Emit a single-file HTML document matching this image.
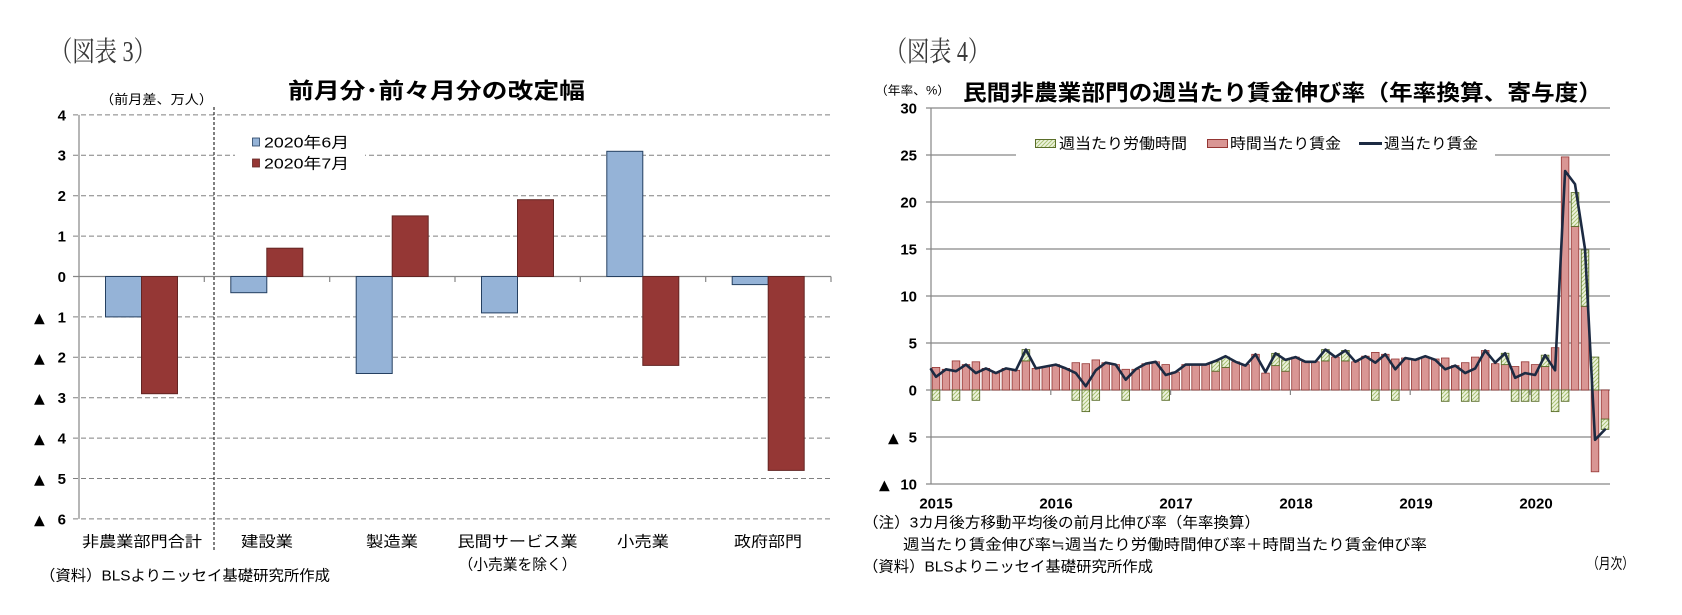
<!DOCTYPE html>
<html lang="ja">
<head>
<meta charset="utf-8">
<style>
  html,body{margin:0;padding:0;background:#fff;}
  svg{display:block;}
  text{font-family:"Liberation Sans","Noto Sans CJK JP",sans-serif;fill:#000;}
  .serif{font-family:"Liberation Serif","Noto Serif CJK JP","Noto Serif CJK SC",serif;fill:#3a3a3a;}
  text.tri{font-family:"DejaVu Sans","Noto Sans CJK JP",sans-serif;}
  .num{font-weight:bold;}
  .ttl{font-weight:bold;}
</style>
</head>
<body>
<svg width="1682" height="615" viewBox="0 0 1682 615" xmlns="http://www.w3.org/2000/svg">
  <defs>
    <pattern id="hatch" patternUnits="userSpaceOnUse" width="4" height="4">
      <rect width="4" height="4" fill="#eef3e0"/>
      <path d="M-1,1 l2,-2 M0,4 l4,-4 M3,5 l2,-2" stroke="#a9c274" stroke-width="1"/>
    </pattern>
  </defs>
  <rect width="1682" height="615" fill="#fff"/>

  <!-- ================= LEFT CHART ================= -->
  <text class="serif" x="50" y="61" font-size="28" textLength="106" lengthAdjust="spacingAndGlyphs">（図表 3）</text>
  <text x="100" y="104" font-size="13" textLength="113" lengthAdjust="spacingAndGlyphs">（前月差、万人）</text>
  <text class="ttl" x="288" y="98.5" font-size="22" textLength="297" lengthAdjust="spacingAndGlyphs">前月分･前々月分の改定幅</text>

  <!-- gridlines -->
  <g stroke="#808080" stroke-width="1" stroke-dasharray="5,3" fill="none">
    <line x1="73" y1="114.9" x2="830" y2="114.9"/>
    <line x1="73" y1="155.3" x2="830" y2="155.3"/>
    <line x1="73" y1="195.7" x2="830" y2="195.7"/>
    <line x1="73" y1="236.1" x2="830" y2="236.1"/>
    <line x1="73" y1="316.9" x2="830" y2="316.9"/>
    <line x1="73" y1="357.3" x2="830" y2="357.3"/>
    <line x1="73" y1="397.7" x2="830" y2="397.7"/>
    <line x1="73" y1="438.1" x2="830" y2="438.1"/>
    <line x1="73" y1="478.5" x2="830" y2="478.5"/>
    <line x1="73" y1="518.9" x2="830" y2="518.9"/>
  </g>
  <!-- axis -->
  <g stroke="#868686" stroke-width="1.2" fill="none">
    <line x1="79" y1="114.9" x2="79" y2="518.9"/>
    <line x1="73" y1="276.5" x2="831" y2="276.5"/>
    <line x1="204.3" y1="276.5" x2="204.3" y2="282"/>
    <line x1="329.7" y1="276.5" x2="329.7" y2="282"/>
    <line x1="455" y1="276.5" x2="455" y2="282"/>
    <line x1="580.3" y1="276.5" x2="580.3" y2="282"/>
    <line x1="705.7" y1="276.5" x2="705.7" y2="282"/>
    <line x1="831" y1="276.5" x2="831" y2="282"/>
  </g>
  <!-- separator -->
  <line x1="214" y1="107" x2="214" y2="552" stroke="#000" stroke-width="1" stroke-dasharray="3,2"/>

  <!-- legend background -->
  <rect x="235" y="128" width="130" height="45" fill="#fff"/>
  <rect x="252.5" y="138" width="7" height="8" fill="#95b3d7" stroke="#254061" stroke-width="0.8"/>
  <text x="264" y="147.5" font-size="15" textLength="85" lengthAdjust="spacingAndGlyphs">2020年6月</text>
  <rect x="252.5" y="159" width="7" height="8" fill="#953735" stroke="#632523" stroke-width="0.8"/>
  <text x="264" y="168.5" font-size="15" textLength="85" lengthAdjust="spacingAndGlyphs">2020年7月</text>

  <!-- bars blue -->
  <g fill="#95b3d7" stroke="#254061" stroke-width="1">
    <rect x="105.5" y="276.5" width="36" height="40.4"/>
    <rect x="230.8" y="276.5" width="36" height="16.2"/>
    <rect x="356.2" y="276.5" width="36" height="97"/>
    <rect x="481.5" y="276.5" width="36" height="36.4"/>
    <rect x="606.8" y="151.3" width="36" height="125.2"/>
    <rect x="732.2" y="276.5" width="36" height="8.1"/>
  </g>
  <!-- bars red -->
  <g fill="#953735" stroke="#632523" stroke-width="1">
    <rect x="141.5" y="276.5" width="36" height="117.2"/>
    <rect x="266.8" y="248.2" width="36" height="28.3"/>
    <rect x="392.2" y="215.9" width="36" height="60.6"/>
    <rect x="517.5" y="199.7" width="36" height="76.8"/>
    <rect x="642.8" y="276.5" width="36" height="88.9"/>
    <rect x="768.2" y="276.5" width="36" height="193.9"/>
  </g>

  <!-- y labels -->
  <g class="num" font-size="15" text-anchor="end">
    <text x="66" y="120.3">4</text>
    <text x="66" y="160.7">3</text>
    <text x="66" y="201.1">2</text>
    <text x="66" y="241.5">1</text>
    <text x="66" y="281.9">0</text>
    <text x="66" y="322.3">1</text>
    <text x="66" y="362.7">2</text>
    <text x="66" y="403.1">3</text>
    <text x="66" y="443.5">4</text>
    <text x="66" y="483.9">5</text>
    <text x="66" y="524.3">6</text>
  </g>
  <g font-size="14">
    <text class="tri" x="34" y="322.4">▲</text>
    <text class="tri" x="34" y="362.8">▲</text>
    <text class="tri" x="34" y="403.2">▲</text>
    <text class="tri" x="34" y="443.6">▲</text>
    <text class="tri" x="34" y="484">▲</text>
    <text class="tri" x="34" y="524.4">▲</text>
  </g>

  <!-- x labels -->
  <g font-size="15" text-anchor="middle">
    <text x="142" y="546.7" textLength="120" lengthAdjust="spacingAndGlyphs">非農業部門合計</text>
    <text x="267" y="546.7" textLength="52" lengthAdjust="spacingAndGlyphs">建設業</text>
    <text x="392" y="546.7" textLength="52" lengthAdjust="spacingAndGlyphs">製造業</text>
    <text x="517.5" y="546.7" textLength="120" lengthAdjust="spacingAndGlyphs">民間サービス業</text>
    <text x="517.5" y="569.5" textLength="118" lengthAdjust="spacingAndGlyphs">（小売業を除く）</text>
    <text x="643" y="546.7" textLength="52" lengthAdjust="spacingAndGlyphs">小売業</text>
    <text x="768" y="546.7" textLength="68" lengthAdjust="spacingAndGlyphs">政府部門</text>
  </g>
  <text x="40" y="580.7" font-size="15" textLength="290" lengthAdjust="spacingAndGlyphs">（資料）BLSよりニッセイ基礎研究所作成</text>

  <!-- ================= RIGHT CHART ================= -->
  <text class="serif" x="885" y="61" font-size="28" textLength="105" lengthAdjust="spacingAndGlyphs">（図表 4）</text>
  <text x="875" y="94.5" font-size="12" textLength="75" lengthAdjust="spacingAndGlyphs">（年率、%）</text>
  <text class="ttl" x="963" y="100.4" font-size="22" textLength="639" lengthAdjust="spacingAndGlyphs">民間非農業部門の週当たり賃金伸び率（年率換算、寄与度）</text>

  <!-- gridlines -->
  <g stroke="#868686" stroke-width="1.2" fill="none">
    <line x1="926" y1="108" x2="1610" y2="108"/>
    <line x1="926" y1="155" x2="1610" y2="155"/>
    <line x1="926" y1="202" x2="1610" y2="202"/>
    <line x1="926" y1="249" x2="1610" y2="249"/>
    <line x1="926" y1="296" x2="1610" y2="296"/>
    <line x1="926" y1="343" x2="1610" y2="343"/>
    <line x1="926" y1="390" x2="1610" y2="390"/>
    <line x1="926" y1="437" x2="1610" y2="437"/>
    <line x1="926" y1="484" x2="1610" y2="484"/>
    <line x1="931" y1="108" x2="931" y2="484"/>
    <line x1="1050.8" y1="390" x2="1050.8" y2="395"/>
    <line x1="1170.6" y1="390" x2="1170.6" y2="395"/>
    <line x1="1290.4" y1="390" x2="1290.4" y2="395"/>
    <line x1="1410.2" y1="390" x2="1410.2" y2="395"/>
    <line x1="1530" y1="390" x2="1530" y2="395"/>
  </g>

  <!-- legend -->
  <rect x="1016" y="128" width="479" height="31" fill="#fff"/>
  <rect x="1035.5" y="139.5" width="20" height="8" fill="url(#hatch)" stroke="#5a6e2a" stroke-width="1"/>
  <text x="1059" y="148.5" font-size="15" textLength="128" lengthAdjust="spacingAndGlyphs">週当たり労働時間</text>
  <rect x="1207.5" y="139.5" width="20" height="8" fill="#d99694" stroke="#943634" stroke-width="1"/>
  <text x="1230" y="148.5" font-size="15" textLength="111" lengthAdjust="spacingAndGlyphs">時間当たり賃金</text>
  <line x1="1359" y1="143.5" x2="1382" y2="143.5" stroke="#1c2a42" stroke-width="3"/>
  <text x="1384" y="148.5" font-size="15" textLength="94" lengthAdjust="spacingAndGlyphs">週当たり賃金</text>

  <!-- red bars -->
  <g fill="#d99694" stroke="#943634" stroke-width="0.8">
    <rect x="932.2" y="367.4" width="7.6" height="22.6"/>
    <rect x="942.2" y="369.3" width="7.6" height="20.7"/>
    <rect x="952.2" y="360.9" width="7.6" height="29.1"/>
    <rect x="962.2" y="364.6" width="7.6" height="25.4"/>
    <rect x="972.1" y="361.8" width="7.6" height="28.2"/>
    <rect x="982.1" y="368.4" width="7.6" height="21.6"/>
    <rect x="992.1" y="373.1" width="7.6" height="16.9"/>
    <rect x="1002.1" y="368.4" width="7.6" height="21.6"/>
    <rect x="1012.1" y="370.3" width="7.6" height="19.7"/>
    <rect x="1022.1" y="360.9" width="7.6" height="29.1"/>
    <rect x="1032.1" y="368.4" width="7.6" height="21.6"/>
    <rect x="1042.0" y="366.5" width="7.6" height="23.5"/>
    <rect x="1052.0" y="364.6" width="7.6" height="25.4"/>
    <rect x="1062.0" y="368.4" width="7.6" height="21.6"/>
    <rect x="1072.0" y="362.7" width="7.6" height="27.3"/>
    <rect x="1082.0" y="363.7" width="7.6" height="26.3"/>
    <rect x="1092.0" y="359.9" width="7.6" height="30.1"/>
    <rect x="1101.9" y="362.7" width="7.6" height="27.3"/>
    <rect x="1111.9" y="364.6" width="7.6" height="25.4"/>
    <rect x="1121.9" y="369.3" width="7.6" height="20.7"/>
    <rect x="1131.9" y="369.3" width="7.6" height="20.7"/>
    <rect x="1141.9" y="363.7" width="7.6" height="26.3"/>
    <rect x="1151.9" y="361.8" width="7.6" height="28.2"/>
    <rect x="1161.9" y="364.6" width="7.6" height="25.4"/>
    <rect x="1171.8" y="372.1" width="7.6" height="17.9"/>
    <rect x="1181.8" y="364.6" width="7.6" height="25.4"/>
    <rect x="1191.8" y="364.6" width="7.6" height="25.4"/>
    <rect x="1201.8" y="364.6" width="7.6" height="25.4"/>
    <rect x="1211.8" y="371.2" width="7.6" height="18.8"/>
    <rect x="1221.8" y="367.4" width="7.6" height="22.6"/>
    <rect x="1231.8" y="361.8" width="7.6" height="28.2"/>
    <rect x="1241.7" y="364.6" width="7.6" height="25.4"/>
    <rect x="1251.7" y="354.3" width="7.6" height="35.7"/>
    <rect x="1261.7" y="373.1" width="7.6" height="16.9"/>
    <rect x="1271.7" y="365.6" width="7.6" height="24.4"/>
    <rect x="1281.7" y="371.2" width="7.6" height="18.8"/>
    <rect x="1291.7" y="357.1" width="7.6" height="32.9"/>
    <rect x="1301.6" y="361.8" width="7.6" height="28.2"/>
    <rect x="1311.6" y="361.8" width="7.6" height="28.2"/>
    <rect x="1321.6" y="360.9" width="7.6" height="29.1"/>
    <rect x="1331.6" y="357.1" width="7.6" height="32.9"/>
    <rect x="1341.6" y="360.9" width="7.6" height="29.1"/>
    <rect x="1351.6" y="361.8" width="7.6" height="28.2"/>
    <rect x="1361.6" y="356.2" width="7.6" height="33.8"/>
    <rect x="1371.5" y="352.4" width="7.6" height="37.6"/>
    <rect x="1381.5" y="354.3" width="7.6" height="35.7"/>
    <rect x="1391.5" y="359.0" width="7.6" height="31.0"/>
    <rect x="1401.5" y="358.0" width="7.6" height="32.0"/>
    <rect x="1411.5" y="359.9" width="7.6" height="30.1"/>
    <rect x="1421.5" y="357.1" width="7.6" height="32.9"/>
    <rect x="1431.5" y="359.0" width="7.6" height="31.0"/>
    <rect x="1441.4" y="358.0" width="7.6" height="32.0"/>
    <rect x="1451.4" y="365.6" width="7.6" height="24.4"/>
    <rect x="1461.4" y="362.7" width="7.6" height="27.3"/>
    <rect x="1471.4" y="357.1" width="7.6" height="32.9"/>
    <rect x="1481.4" y="350.5" width="7.6" height="39.5"/>
    <rect x="1491.4" y="363.7" width="7.6" height="26.3"/>
    <rect x="1501.3" y="364.6" width="7.6" height="25.4"/>
    <rect x="1511.3" y="366.5" width="7.6" height="23.5"/>
    <rect x="1521.3" y="361.8" width="7.6" height="28.2"/>
    <rect x="1531.3" y="364.6" width="7.6" height="25.4"/>
    <rect x="1541.3" y="366.5" width="7.6" height="23.5"/>
    <rect x="1551.3" y="347.7" width="7.6" height="42.3"/>
    <rect x="1561.3" y="156.9" width="7.6" height="233.1"/>
    <rect x="1571.2" y="226.4" width="7.6" height="163.6"/>
    <rect x="1581.2" y="306.3" width="7.6" height="83.7"/>
    <rect x="1591.2" y="390" width="7.6" height="81.8"/>
    <rect x="1601.2" y="390" width="7.6" height="29.1"/>
  </g>

  <!-- green hatched bars -->
  <g fill="url(#hatch)" stroke="#5a6e2a" stroke-width="0.9">
    <rect x="1022.1" y="349.6" width="7.6" height="11.3"/>
    <rect x="1211.8" y="361.8" width="7.6" height="9.4"/>
    <rect x="1221.8" y="357.1" width="7.6" height="10.3"/>
    <rect x="1271.7" y="353.4" width="7.6" height="12.2"/>
    <rect x="1281.7" y="359.9" width="7.6" height="11.3"/>
    <rect x="1321.6" y="349.6" width="7.6" height="11.3"/>
    <rect x="1341.6" y="350.5" width="7.6" height="10.4"/>
    <rect x="1501.3" y="353.3" width="7.6" height="11.3"/>
    <rect x="1541.3" y="355.2" width="7.6" height="11.3"/>
    <rect x="1571.2" y="192.6" width="7.6" height="33.8"/>
    <rect x="1581.2" y="249.9" width="7.6" height="56.4"/>
    <rect x="1591.2" y="357.1" width="7.6" height="32.9"/>
    <rect x="932.2" y="390" width="7.6" height="10.3"/>
    <rect x="952.2" y="390" width="7.6" height="10.3"/>
    <rect x="972.1" y="390" width="7.6" height="10.3"/>
    <rect x="1072.0" y="390" width="7.6" height="10.3"/>
    <rect x="1082.0" y="390" width="7.6" height="21.6"/>
    <rect x="1092.0" y="390" width="7.6" height="10.3"/>
    <rect x="1121.9" y="390" width="7.6" height="10.3"/>
    <rect x="1161.9" y="390" width="7.6" height="10.3"/>
    <rect x="1371.5" y="390" width="7.6" height="10.3"/>
    <rect x="1391.5" y="390" width="7.6" height="10.3"/>
    <rect x="1441.4" y="390" width="7.6" height="11.3"/>
    <rect x="1461.4" y="390" width="7.6" height="11.3"/>
    <rect x="1471.4" y="390" width="7.6" height="11.3"/>
    <rect x="1511.3" y="390" width="7.6" height="11.3"/>
    <rect x="1521.3" y="390" width="7.6" height="11.3"/>
    <rect x="1531.3" y="390" width="7.6" height="11.3"/>
    <rect x="1551.3" y="390" width="7.6" height="21.6"/>
    <rect x="1561.3" y="390" width="7.6" height="11.3"/>
    <rect x="1601.2" y="419.1" width="7.6" height="10.3"/>
  </g>

  <!-- weekly wage line -->
  <path fill="none" stroke="#1c2a42" stroke-width="2.6" stroke-linejoin="round" stroke-linecap="round"
    d="M931,369.3 L936,376.8 946,369.3 956,371.2 966,364.6 975.9,373.1 985.9,368.4 995.9,373.1 1005.9,368.4 1015.9,370.3 1025.9,349.6 1035.9,368.4 1045.8,366.5 1055.8,364.6 1065.8,368.4 1075.8,373.1 1085.8,386.2 1095.8,370.3 1105.7,362.7 1115.7,364.6 1125.7,379.7 1135.7,369.3 1145.7,363.7 1155.7,361.8 1165.7,375 1175.6,372.1 1185.6,364.6 1195.6,364.6 1205.6,364.6 1215.6,360.9 1225.6,356.2 1235.6,361.8 1245.5,365.6 1255.5,354.3 1265.5,372.1 1275.5,353.3 1285.5,359.9 1295.5,357.1 1305.4,361.8 1315.4,361.8 1325.4,349.6 1335.4,357.1 1345.4,350.5 1355.4,361.8 1365.4,356.2 1375.3,362.7 1385.3,354.3 1395.3,369.3 1405.3,358 1415.3,359.9 1425.3,356.2 1435.3,359.9 1445.2,369.3 1455.2,365.6 1465.2,373.1 1475.2,368.4 1485.2,350.5 1495.2,362.7 1505.1,353.3 1515.1,377.8 1525.1,373.1 1535.1,375 1545.1,355.2 1555.1,370.3 1565.1,171 1575,184.1 1585,249 1595,439.8 1605,429.5"/>

  <!-- y labels -->
  <g class="num" font-size="15" text-anchor="end">
    <text x="917" y="113.4">30</text>
    <text x="917" y="160.4">25</text>
    <text x="917" y="207.4">20</text>
    <text x="917" y="254.4">15</text>
    <text x="917" y="301.4">10</text>
    <text x="917" y="348.4">5</text>
    <text x="917" y="395.4">0</text>
    <text x="917" y="442.4">5</text>
    <text x="917" y="489.4">10</text>
  </g>
  <g font-size="14">
    <text class="tri" x="888" y="442.4">▲</text>
    <text class="tri" x="879" y="489.4">▲</text>
  </g>

  <!-- years -->
  <g class="num" font-size="15" text-anchor="middle">
    <text x="936" y="508.5">2015</text>
    <text x="1056" y="508.5">2016</text>
    <text x="1176" y="508.5">2017</text>
    <text x="1296" y="508.5">2018</text>
    <text x="1416" y="508.5">2019</text>
    <text x="1536" y="508.5">2020</text>
  </g>

  <!-- footnotes -->
  <text x="863" y="527.7" font-size="15" textLength="397" lengthAdjust="spacingAndGlyphs">（注）3カ月後方移動平均後の前月比伸び率（年率換算）</text>
  <text x="903" y="549.7" font-size="15" textLength="524" lengthAdjust="spacingAndGlyphs">週当たり賃金伸び率≒週当たり労働時間伸び率＋時間当たり賃金伸び率</text>
  <text x="863" y="571.7" font-size="15" textLength="290" lengthAdjust="spacingAndGlyphs">（資料）BLSよりニッセイ基礎研究所作成</text>
  <text x="1587" y="568.7" font-size="15" textLength="47" lengthAdjust="spacingAndGlyphs">（月次）</text>
</svg>
</body>
</html>
